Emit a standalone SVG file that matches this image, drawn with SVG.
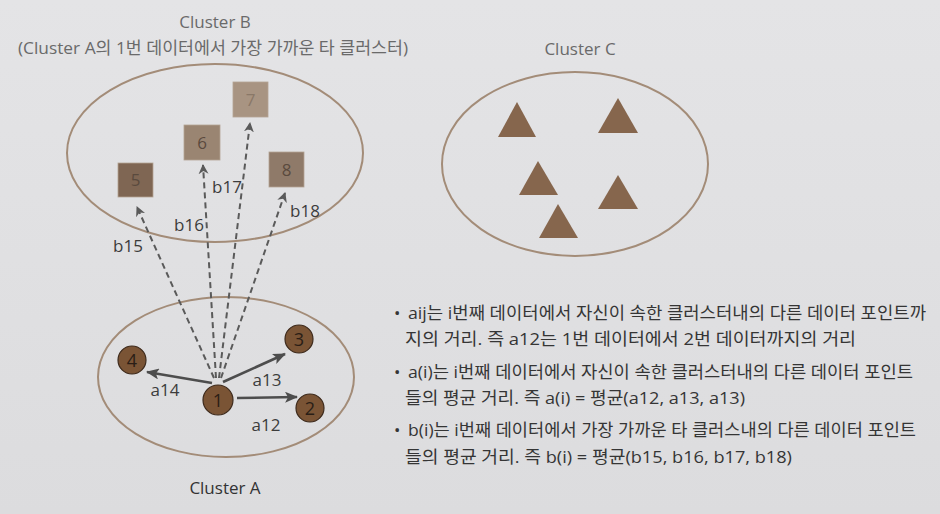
<svg xmlns="http://www.w3.org/2000/svg" width="940" height="514" viewBox="0 0 940 514">
<defs>
<linearGradient id="bg" x1="0" y1="0" x2="0" y2="1">
<stop offset="0" stop-color="#e4e4e6"/>
<stop offset="1" stop-color="#dcdcde"/>
</linearGradient>
<marker id="ah" viewBox="0 0 13 11" refX="12" refY="5.5" markerWidth="13" markerHeight="11" markerUnits="userSpaceOnUse" orient="auto">
<path d="M0,0 L13,5.5 L0,11 L3,5.5 Z" fill="#4d4d4d"/>
</marker>
<marker id="ahd" viewBox="0 0 10 10" refX="9" refY="5" markerWidth="10" markerHeight="10" markerUnits="userSpaceOnUse" orient="auto">
<path d="M0,0 L10,5 L0,10 L3,5 Z" fill="#5a5a5a"/>
</marker>
</defs>
<style>
.ell{fill:none;stroke:#a38c78;stroke-width:2}
.ttl{font-family:"Open Sans","Noto Sans CJK KR",sans-serif;font-size:17px;fill:#6a6a6a;text-anchor:middle}
.lbl{font-family:"Open Sans",sans-serif;font-size:17px;fill:#3c3c3c;text-anchor:middle}
.sq{stroke:#b3a493;stroke-width:0.8}
.sqt{font-family:"Open Sans",sans-serif;font-size:17px;fill:#5a4a3e;text-anchor:middle}
.cir{fill:#7a5435;stroke:#3d2a1c;stroke-width:1.2}
.cirt{font-family:"Open Sans",sans-serif;font-size:18px;fill:#2a1e16;text-anchor:middle}
.tri{fill:#86664d}
.sol{stroke:#4d4d4d;stroke-width:2.6;fill:none;marker-end:url(#ah)}
.dsh{stroke:#5a5a5a;stroke-width:2;fill:none;stroke-dasharray:6 4;marker-end:url(#ahd)}
.txt{font-family:"Open Sans","Noto Sans CJK KR",sans-serif;font-size:17px;fill:#353535}
</style>
<rect width="940" height="514" fill="url(#bg)"/>

<text class="ttl" x="215" y="28">Cluster B</text>
<text class="ttl" x="213" y="54" textLength="390" lengthAdjust="spacingAndGlyphs">(Cluster A의 1번 데이터에서 가장 가까운 타 클러스터)</text>
<text class="ttl" x="580" y="55">Cluster C</text>
<text class="lbl" x="225" y="494" style="fill:#333">Cluster A</text>

<g id="clusterB">
<ellipse class="ell" cx="215" cy="153" rx="148" ry="89"/>
</g>
<g id="clusterC">
<ellipse class="ell" cx="575" cy="164" rx="133" ry="92"/>
</g>
<g id="clusterA">
<ellipse class="ell" cx="226" cy="377" rx="128" ry="80"/>
</g>

<g id="node5"><rect class="sq" x="118" y="163" width="35" height="34" fill="#7f6653"/><text class="sqt" x="135.5" y="186">5</text></g>
<g id="node6"><rect class="sq" x="184" y="125" width="36" height="35" fill="#9a8572"/><text class="sqt" x="202" y="149">6</text></g>
<g id="node7"><rect class="sq" x="233" y="82" width="35" height="35" fill="#a89482"/><text class="sqt" x="250.5" y="106" style="fill:#8a7868">7</text></g>
<g id="node8"><rect class="sq" x="269" y="152" width="35" height="35" fill="#8f7a69"/><text class="sqt" x="286.5" y="176">8</text></g>

<g id="tri1"><polygon class="tri" points="517,102 536,137 498,137"/></g>
<g id="tri2"><polygon class="tri" points="618,98 638,133 598,133"/></g>
<g id="tri3"><polygon class="tri" points="538,161 558,195 519,195"/></g>
<g id="tri4"><polygon class="tri" points="618,175 638,209 598,209"/></g>
<g id="tri5"><polygon class="tri" points="558,204 578,238 539,238"/></g>

<g id="connectors">
<line class="dsh" x1="214" y1="378" x2="137" y2="207"/>
<line class="dsh" x1="216" y1="378" x2="203" y2="165"/>
<line class="dsh" x1="219" y1="378" x2="250" y2="123"/>
<line class="dsh" x1="221" y1="378" x2="285" y2="193"/>
<line class="sol" x1="212" y1="383" x2="147" y2="372"/>
<line class="sol" x1="223" y1="382" x2="285" y2="354"/>
<line class="sol" x1="237" y1="398" x2="297" y2="397"/>
</g>

<g id="node1"><circle class="cir" cx="218" cy="400" r="15"/><text class="cirt" x="218" y="407">1</text></g>
<g id="node2"><circle class="cir" cx="310" cy="408" r="14"/><text class="cirt" x="310" y="415">2</text></g>
<g id="node3"><circle class="cir" cx="299" cy="339" r="14"/><text class="cirt" x="299" y="346">3</text></g>
<g id="node4"><circle class="cir" cx="132" cy="360" r="14"/><text class="cirt" x="132" y="367">4</text></g>

<g id="labels">
<text class="lbl" x="128" y="252">b15</text>
<text class="lbl" x="189" y="231">b16</text>
<text class="lbl" x="227" y="193">b17</text>
<text class="lbl" x="305" y="217">b18</text>
<text class="lbl" x="165" y="396">a14</text>
<text class="lbl" x="267" y="386">a13</text>
<text class="lbl" x="266" y="431">a12</text>
</g>

<g id="notes">
<text class="txt" x="394" y="319">•</text>
<text class="txt" x="408" y="319" textLength="518" lengthAdjust="spacingAndGlyphs">aij는 i번째 데이터에서 자신이 속한 클러스터내의 다른 데이터 포인트까</text>
<text class="txt" x="405" y="345" textLength="451" lengthAdjust="spacingAndGlyphs">지의 거리. 즉 a12는 1번 데이터에서 2번 데이터까지의 거리</text>
<text class="txt" x="394" y="378">•</text>
<text class="txt" x="408" y="378" textLength="505" lengthAdjust="spacingAndGlyphs">a(i)는 i번째 데이터에서 자신이 속한 클러스터내의 다른 데이터 포인트</text>
<text class="txt" x="405" y="404" textLength="340" lengthAdjust="spacingAndGlyphs">들의 평균 거리. 즉 a(i) = 평균(a12, a13, a13)</text>
<text class="txt" x="394" y="436">•</text>
<text class="txt" x="408" y="436" textLength="508" lengthAdjust="spacingAndGlyphs">b(i)는 i번째 데이터에서 가장 가까운 타 클러스내의 다른 데이터 포인트</text>
<text class="txt" x="405" y="463" textLength="387" lengthAdjust="spacingAndGlyphs">들의 평균 거리. 즉 b(i) = 평균(b15, b16, b17, b18)</text>
</g>
</svg>
